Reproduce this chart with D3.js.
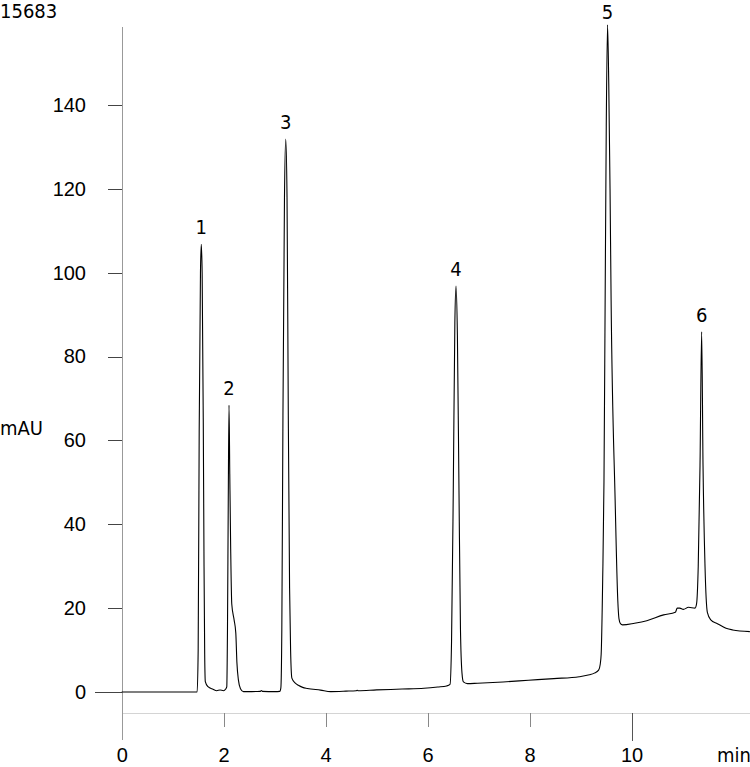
<!DOCTYPE html>
<html>
<head>
<meta charset="utf-8">
<script src="https://cdn.jsdelivr.net/npm/d3@7"></script>
<style>
  body { margin: 0; background: #fff; }
  svg { display: block; font-family: "DejaVu Sans Condensed", "DejaVu Sans", sans-serif; font-stretch: condensed; }
</style>
</head>
<body>
<div class="chromatogram"></div>
<script>
// chart values
const runId = "15683";
const yUnit = "mAU";
const xUnit = "min";
const yTicks = [0, 20, 40, 60, 80, 100, 120, 140];
const xTicks = [0, 2, 4, 6, 8, 10];
const xMajor = [0, 10];

// retention time (min)
const times = [
  0, 0.5, 1.0, 1.48,
  1.50, 1.52, 1.545, 1.561, 1.578, 1.60, 1.615, 1.628, 1.64,
  1.693, 1.791, 1.864, 1.929, 1.994, 2.041, 2.061,
  2.075, 2.09, 2.105, 2.12, 2.138, 2.159, 2.205, 2.238, 2.26, 2.289, 2.33, 2.388,
  2.55, 2.72, 2.74, 2.76, 3.0, 3.10,
  3.122, 3.141, 3.163, 3.193, 3.218, 3.243, 3.268, 3.293, 3.313, 3.338,
  3.40, 3.465, 3.55, 3.64, 3.9, 4.1, 4.4, 4.6, 4.62, 4.64, 5.0, 5.5, 5.93, 6.2, 6.374,
  6.44, 6.47, 6.504, 6.535, 6.558, 6.585, 6.616, 6.645, 6.675, 6.703, 6.782,
  6.98, 7.48, 7.98, 8.476, 8.974, 9.174, 9.27, 9.355,
  9.385, 9.405, 9.435, 9.46, 9.483, 9.505, 9.53, 9.554, 9.579, 9.60, 9.679, 9.731, 9.754, 9.783, 9.823,
  10.06, 10.30, 10.63, 10.86, 10.898, 10.947, 11.017, 11.117, 11.246,
  11.276, 11.309, 11.344, 11.376, 11.403, 11.442, 11.488, 11.555, 11.685, 11.854, 11.984, 12.322
];
// absorbance (mAU)
const absorbance = [
  0, 0, 0, 0,
  10, 62, 100, 106.8, 100, 65, 30, 9, 2.5,
  1.26, 0.64, 0.31, 0.48, 0.31, 0.72, 1.2,
  15, 45, 68.4, 52, 34, 21, 17.2, 14.1, 7, 2.9, 0.8, 0.1,
  0.1, 0.15, 0.35, 0.15, 0.1, 0.15,
  1, 15, 66, 118, 131.9, 118, 66, 25, 10, 3.3,
  2.2, 1.6, 1.1, 0.85, 0.45, 0.1, 0.2, 0.3, 0.4, 0.3, 0.5, 0.7, 0.9, 1.2, 1.45,
  1.8, 12, 48, 88, 96.8, 85, 48, 15, 4.5, 2.4, 2.0,
  2.1, 2.4, 2.8, 3.2, 3.65, 4.1, 4.5, 5.2,
  6.5, 9, 27, 50, 93.5, 135, 159.1, 145, 120, 93.5, 45.8, 21.9, 17.5, 16.3, 16.0,
  16.4, 17.0, 18.4, 19.0, 20.0, 20.0, 19.7, 20.2, 20.0,
  21, 30, 54, 85.9, 54, 30, 19, 17.2, 16.3, 15.2, 14.8, 14.4
];

// peak numbering
const peakNames = ["1", "2", "3", "4", "5", "6"];
const peakTimes = [1.561, 2.105, 3.218, 6.558, 9.53, 11.376];

// set the dimensions of the graph
const W = 750, H = 767;
const plot = { left: 122, right: 750, zero: 692, top: 27, bottom: 740, xAxisY: 713 };

const svg = d3.select(".chromatogram")
  .append("svg")
  .attr("width", W)
  .attr("height", H);

const x = d3.scaleLinear()
  .domain([0, 10])
  .range([121.7, 631.5]);

const y = d3.scaleLinear()
  .domain([0, 140])
  .range([plot.zero, 105]);

// x axis: light baseline, short minor ticks, long major ticks
svg.append("line")
  .attr("x1", plot.left).attr("x2", plot.right)
  .attr("y1", plot.xAxisY).attr("y2", plot.xAxisY)
  .attr("stroke", "#d4d4d4")
  .attr("shape-rendering", "crispEdges");

const xAxis = svg.append("g")
  .attr("transform", `translate(0, ${plot.xAxisY})`)
  .call(d3.axisBottom(x).tickValues(xTicks).tickSize(14).tickFormat(d3.format("d")));
xAxis.select(".domain").remove();
xAxis.selectAll(".tick line")
  .attr("stroke", d => xMajor.includes(d) ? "#555" : "#888")
  .attr("y2", d => xMajor.includes(d) ? 28 : 14)
  .attr("shape-rendering", "crispEdges");
xAxis.selectAll(".tick text")
  .attr("y", 49).attr("dy", 0)
  .style("font-size", "20px")
  .attr("fill", "#000");
xAxis.selectAll(".tick").filter(d => d === 0).select("line").remove();

svg.append("text")
  .attr("x", 717)
  .attr("y", plot.xAxisY + 49)
  .style("font-size", "20px")
  .text(xUnit);

// y axis
svg.append("line")
  .attr("x1", plot.left).attr("x2", plot.left)
  .attr("y1", plot.top).attr("y2", plot.bottom)
  .attr("stroke", "#999")
  .attr("shape-rendering", "crispEdges");

const yAxis = svg.append("g")
  .attr("transform", `translate(${plot.left}, 0)`)
  .call(d3.axisLeft(y).tickValues(yTicks).tickSize(14).tickPadding(22));
yAxis.select(".domain").remove();
yAxis.selectAll(".tick line")
  .attr("stroke", "#444")
  .attr("x2", d => d === 0 ? -27 : -14)
  .attr("shape-rendering", "crispEdges");
yAxis.selectAll(".tick text")
  .style("font-size", "20px")
  .attr("fill", "#000");

svg.append("text")
  .attr("x", 0)
  .attr("y", 435)
  .style("font-size", "20px")
  .text(yUnit);

svg.append("text")
  .attr("x", 0)
  .attr("y", 18)
  .style("font-size", "20px")
  .text(runId);

// trace
const trace = times.map((t, i) => [t, absorbance[i]]);

svg.append("path")
  .datum(trace)
  .attr("fill", "none")
  .attr("stroke", "#000")
  .attr("stroke-width", 1.1)
  .attr("d", d3.line()
    .curve(d3.curveMonotoneX)
    .x(d => x(d[0]))
    .y(d => y(d[1]))
  );

// peak numbers above each apex (kept inside the page at the top)
svg.selectAll(".peak-label")
  .data(peakNames)
  .join("text")
  .attr("class", "peak-label")
  .attr("text-anchor", "middle")
  .attr("x", (d, i) => x(peakTimes[i]))
  .attr("y", (d, i) => Math.max(19, y(absorbance[times.indexOf(peakTimes[i])]) - 10))
  .style("font-size", "20px")
  .text(d => d);
</script>
</body>
</html>
